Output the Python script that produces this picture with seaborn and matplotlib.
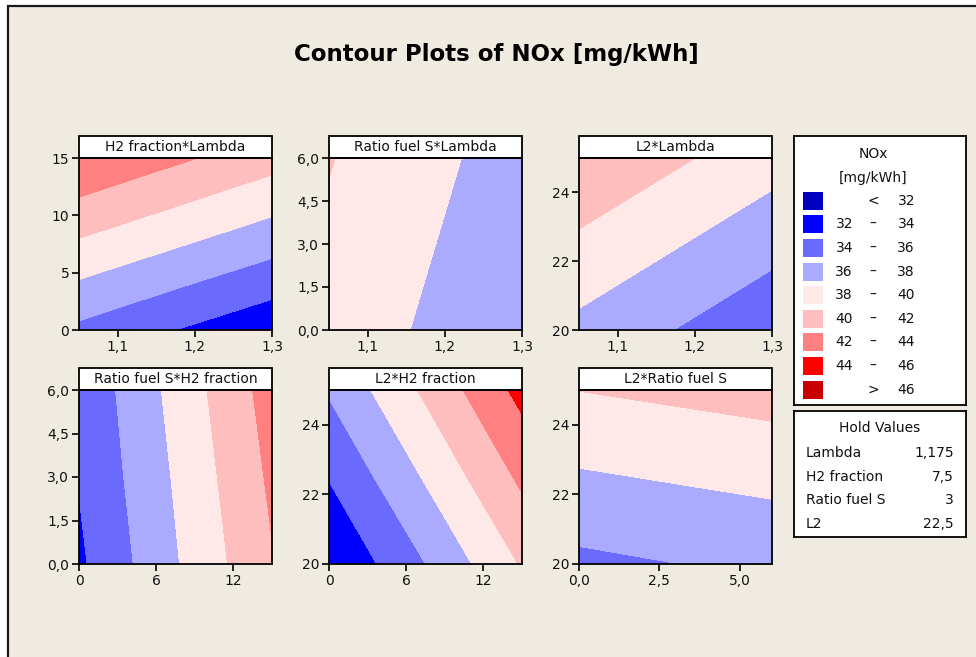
import numpy as np
import matplotlib
matplotlib.use("Agg")
import matplotlib.pyplot as plt
from matplotlib.patches import Rectangle
from matplotlib.ticker import FuncFormatter, FixedLocator
import seaborn as sns

# factor settings (low, centre, high)
lambda_vals = [1.05, 1.175, 1.3]
h2_vals = [0, 7.5, 15]
ratio_vals = [0, 3, 6]
l2_vals = [20, 22.5, 25]

# NOx [mg/kWh]: rows = y factor, columns = x factor
nox_h2_lambda = [[35.55, 34.00, 32.50],
                 [39.72, 38.20, 36.70],
                 [43.90, 42.35, 40.80]]
nox_ratio_lambda = [[39.26, 37.76, 36.26],
                    [39.66, 38.16, 36.66],
                    [40.10, 38.56, 37.06]]
nox_l2_lambda = [[37.46, 35.97, 34.48],
                 [39.62, 38.13, 36.64],
                 [41.79, 40.30, 38.81]]
nox_ratio_h2 = [[33.65, 37.83, 41.85],
                [34.10, 38.20, 42.35],
                [34.40, 38.62, 42.85]]
nox_l2_h2 = [[32.05, 36.00, 40.17],
             [34.10, 38.20, 42.40],
             [36.21, 40.35, 44.60]]
nox_l2_ratio = [[35.55, 35.98, 36.34],
                [37.77, 38.17, 38.57],
                [40.03, 40.42, 40.80]]

levels = [0, 32, 34, 36, 38, 40, 42, 44, 46, 100]
band_colors = ["#0000C0", "#0000FF", "#6A6AFF", "#AAAAFF", "#FFE8E8",
               "#FFBEBE", "#FF8080", "#FF0000", "#C80000"]
band_low = ["", "32", "34", "36", "38", "40", "42", "44", ""]
band_sep = ["<", "–", "–", "–", "–", "–", "–", "–", ">"]
band_high = ["32", "34", "36", "38", "40", "42", "44", "46", "46"]

hold_names = ["Lambda", "H2 fraction", "Ratio fuel S", "L2"]
hold_values = ["1,175", "7,5", "3", "22,5"]

lambda_ticks = [1.1, 1.2, 1.3]
h2_ticks_y = [0, 5, 10, 15]
h2_ticks_x = [0, 6, 12]
ratio_ticks = [0.0, 1.5, 3.0, 4.5, 6.0]
ratio_ticks_x = [0.0, 2.5, 5.0]
l2_ticks = [20, 22, 24]

sns.set_style("ticks")
plt.rcParams["font.family"] = ["DejaVu Sans"]
bg = "#EFEBE1"

fig = plt.figure(figsize=(9.76, 6.57), dpi=100)
fig.patch.set_facecolor("white")
W, H = 976, 657
fig.patches.append(Rectangle((8 / W, -0.05), 1.1, (H - 6) / H + 0.05, transform=fig.transFigure,
                             facecolor=bg, edgecolor="#1a1a1a", linewidth=1.6, zorder=-10))


def comma(d):
    return FuncFormatter(lambda v, p: f"{v:.{d}f}".replace(".", ","))


panels = [
    ("H2 fraction*Lambda", lambda_vals, h2_vals, nox_h2_lambda, lambda_ticks, 1, h2_ticks_y, 0, (79, 330, 172)),
    ("Ratio fuel S*Lambda", lambda_vals, ratio_vals, nox_ratio_lambda, lambda_ticks, 1, ratio_ticks, 1, (329, 330, 172)),
    ("L2*Lambda", lambda_vals, l2_vals, nox_l2_lambda, lambda_ticks, 1, l2_ticks, 0, (579, 330, 172)),
    ("Ratio fuel S*H2 fraction", h2_vals, ratio_vals, nox_ratio_h2, h2_ticks_x, 0, ratio_ticks, 1, (79, 564, 174)),
    ("L2*H2 fraction", h2_vals, l2_vals, nox_l2_h2, h2_ticks_x, 0, l2_ticks, 0, (329, 564, 174)),
    ("L2*Ratio fuel S", ratio_vals, l2_vals, nox_l2_ratio, ratio_ticks_x, 1, l2_ticks, 0, (579, 564, 174)),
]

for title, xv, yv, z, xt, xd, yt, yd, (left, bottom, hpx) in panels:
    ax = fig.add_axes([left / W, (H - bottom) / H, 193 / W, hpx / H])
    X, Y = np.meshgrid(xv, yv)
    ax.contourf(X, Y, np.array(z), levels=levels, colors=band_colors)
    ax.set_xlim(xv[0], xv[-1])
    ax.set_ylim(yv[0], yv[-1])
    ax.xaxis.set_major_locator(FixedLocator(xt))
    ax.yaxis.set_major_locator(FixedLocator(yt))
    ax.xaxis.set_major_formatter(comma(xd))
    ax.yaxis.set_major_formatter(comma(yd))
    ax.tick_params(direction="out", length=5, width=1.3, labelsize=10, colors="#111111", pad=2)
    for s in ax.spines.values():
        s.set_linewidth(1.3)
        s.set_color("black")
    strip_h = 22 / hpx
    ax.add_patch(Rectangle((0, 1), 1, strip_h, transform=ax.transAxes, clip_on=False,
                           facecolor="white", edgecolor="black", linewidth=1.3))
    ax.text(0.5, 1 + strip_h / 2, title, transform=ax.transAxes, ha="center", va="center",
            fontsize=10, color="#111111")

fig.text(496 / W, (H - 55) / H, "Contour Plots of NOx [mg/kWh]", ha="center", va="center",
         fontsize=16.5, fontweight="bold", color="black")

# colour legend box
lax = fig.add_axes([794 / W, (H - 405) / H, 172 / W, 269 / H])
lax.set_xlim(794, 966)
lax.set_ylim(405, 136)
lax.set_xticks([])
lax.set_yticks([])
lax.set_facecolor("white")
for s in lax.spines.values():
    s.set_linewidth(1.3)
    s.set_color("black")
lax.text(873, 154, "NOx", ha="center", va="center", fontsize=10, color="#111111")
lax.text(873, 178, "[mg/kWh]", ha="center", va="center", fontsize=10, color="#111111")
for i, c in enumerate(band_colors):
    yc = 200.7 + i * 23.6
    lax.add_patch(Rectangle((803, yc - 9), 20, 18, facecolor=c, edgecolor="none"))
    lax.text(853, yc, band_low[i], ha="right", va="center", fontsize=10, color="#111111")
    lax.text(873, yc, band_sep[i], ha="center", va="center", fontsize=10, color="#111111")
    lax.text(915, yc, band_high[i], ha="right", va="center", fontsize=10, color="#111111")

# hold values box
hax = fig.add_axes([794 / W, (H - 537) / H, 172 / W, 126 / H])
hax.set_xlim(794, 966)
hax.set_ylim(537, 411)
hax.set_xticks([])
hax.set_yticks([])
hax.set_facecolor("white")
for s in hax.spines.values():
    s.set_linewidth(1.3)
    s.set_color("black")
hax.text(880, 428, "Hold Values", ha="center", va="center", fontsize=10, color="#111111")
for i, (n, v) in enumerate(zip(hold_names, hold_values)):
    yc = 453.3 + i * 23.4
    hax.text(806, yc, n, ha="left", va="center", fontsize=10, color="#111111")
    hax.text(954, yc, v, ha="right", va="center", fontsize=10, color="#111111")

fig.savefig("out.png", dpi=100, facecolor=fig.get_facecolor())
